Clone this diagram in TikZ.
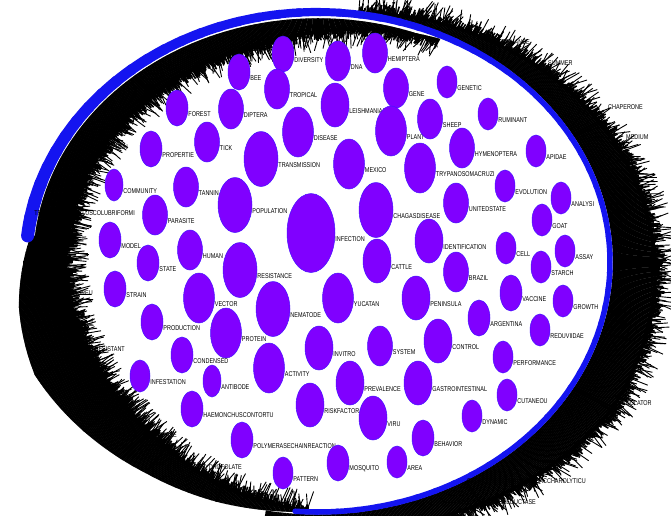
\documentclass[tikz,border=0pt]{standalone}
\usepackage{fontspec}
\setmainfont{Liberation Sans}
\newfontfamily\kwfont{Liberation Sans}[FakeStretch=0.78]
\usetikzlibrary{shapes.geometric}
\definecolor{kwfill}{RGB}{128,0,255}
\definecolor{kwedge}{RGB}{70,20,255}
\definecolor{ringblue}{RGB}{20,20,240}

\begin{document}
\begin{tikzpicture}[x=1pt, y=-1pt,
    kw/.style={ellipse, draw=kwedge, line width=0.5pt, fill=kwfill, inner sep=0pt},
    tinykw/.style={kw, minimum width=20pt, minimum height=32pt},
    smallkw/.style={kw, minimum width=22pt, minimum height=36pt},
    midkw/.style={kw, minimum width=25pt, minimum height=40pt},
    bigkw/.style={kw, minimum width=28pt, minimum height=44pt},
    largekw/.style={kw, minimum width=31pt, minimum height=50pt},
    hugekw/.style={kw, minimum width=34pt, minimum height=55pt},
    lbl/.style={font=\kwfont\fontsize{7}{8}\selectfont, inner sep=0pt, yshift=-6pt},
    tag/.style={font=\kwfont\fontsize{7}{8}\selectfont, inner sep=0pt},
    core/.style={line width=1.6pt},
    hair/.style={line width=0.9pt},
    stub/.style={line width=1.6pt},
]
\useasboundingbox (0,0) rectangle (671,515);
\fill[white] (0,0) rectangle (671,515);
\clip (0,0) rectangle (671,515);

\pgfmathsetseed{17}
% edge mass, left side (inside the ring)
\foreach \sa/\sb/\ia/\ib/\oa/\ob in {92/110/.99/.95/1.0/1.02, 110/125/.95/.90/1.02/1.03,
    125/140/.90/.87/1.03/1.05, 140/155/.87/.86/1.05/1.07, 155/170/.86/.86/1.07/1.04,
    170/186/.86/.86/1.04/.99, 186/230/.86/.87/.975/.975, 230/260/.87/.89/.975/.975,
    260/275/.89/.93/.975/.975, 275/295/.93/.975/.975/.975}{
  \pgfmathtruncatemacro\nn{(\sb-\sa)/0.25}
  \foreach \k in {0,...,\nn}{
    \pgfmathsetmacro\ang{\sa+0.25*\k}
    \pgfmathsetmacro\fr{\k/\nn}
    \pgfmathsetmacro\rin{\ia+(\ib-\ia)*\fr}
    \pgfmathsetmacro\rout{\oa+(\ob-\oa)*\fr}
    \pgfmathsetmacro\rh{\rin-0.075*rnd}
    \pgfmathsetmacro\rs{\rin-0.035*rnd}
    \pgfmathsetmacro\ah{\ang+3*(rnd-0.5)}
    \draw[core] ({318+292*\rin*cos(\ang)},{262+250*\rin*sin(\ang)})
      -- ({318+292*\rout*cos(\ang)},{262+250*\rout*sin(\ang)});
    \draw[hair] ({318+292*\rh*cos(\ah)},{262+250*\rh*sin(\ah)})
      -- ({318+292*(\rin+0.01)*cos(\ang)},{262+250*(\rin+0.01)*sin(\ang)});
    \draw[stub] ({318+292*\rs*cos(\ang)},{262+250*\rs*sin(\ang)})
      -- ({318+292*(\rin+0.01)*cos(\ang)},{262+250*(\rin+0.01)*sin(\ang)});
  }
}
% edge mass, right side (outside the ring)
\foreach \sa/\sb/\oa/\ob in {278/290/1.01/1.04, 290/305/1.04/1.07, 305/330/1.07/1.12,
    330/360/1.12/1.16, 360/390/1.16/1.17, 390/420/1.17/1.12, 420/445/1.12/1.08,
    445/460/1.08/1.02}{
  \pgfmathtruncatemacro\nn{(\sb-\sa)/0.25}
  \foreach \k in {0,...,\nn}{
    \pgfmathsetmacro\ang{\sa+0.25*\k}
    \pgfmathsetmacro\fr{\k/\nn}
    \pgfmathsetmacro\rout{\oa+(\ob-\oa)*\fr}
    \pgfmathsetmacro\rh{\rout+0.075*rnd}
    \pgfmathsetmacro\rs{\rout+0.035*rnd}
    \pgfmathsetmacro\ah{\ang+3*(rnd-0.5)}
    \draw[core] ({318+292*1.01*cos(\ang)},{262+250*1.01*sin(\ang)})
      -- ({318+292*\rout*cos(\ang)},{262+250*\rout*sin(\ang)});
    \draw[hair] ({318+292*(\rout-0.01)*cos(\ang)},{262+250*(\rout-0.01)*sin(\ang)})
      -- ({318+292*\rh*cos(\ah)},{262+250*\rh*sin(\ah)});
    \draw[stub] ({318+292*(\rout-0.01)*cos(\ang)},{262+250*(\rout-0.01)*sin(\ang)})
      -- ({318+292*\rs*cos(\ang)},{262+250*\rs*sin(\ang)});
  }
}

% ring
\foreach \sa in {186,190,...,450}{
  \pgfmathsetmacro\w{max(5.5,13-(\sa-186)*0.06)}
  \pgfmathsetmacro\se{\sa+4.5}
  \draw[ringblue, line width=\w pt, line cap=round]
    plot[domain=\sa:\se, samples=4] ({318+292*cos(\x)},{262+250*sin(\x)});
}

% outer labels
\node[tag, anchor=east] (tperf) at (530,42) {PERFORMANCE};
\node[tag, anchor=west] (tsummer) at (548,63) {SUMMER};
\node[tag, anchor=west] (tchap) at (608,107) {CHAPERONE};
\node[tag, anchor=west] (tmed) at (626,137) {MEDIUM};
\node[tag, anchor=west] (treg) at (618,403) {REGULATOR};
\node[tag, anchor=east] (tsacch) at (586,481) {CALDICELLULOSIRUPTORSACCHAROLYTICU};
\node[tag, anchor=east] (tred) at (536,502) {DIHYDROFOLATEREDUCTASE};
\node[tag, anchor=east] (tpos) at (128,147) {COMPOSITION};
\node[tag, anchor=east] (tmusc) at (135,213) {TRICHOSTRONGYLUSCOLUBRIFORMI};
\node[tag, anchor=east] (taureu) at (93,293) {STAPHYLOCOCCUSAUREU};
\node[tag, anchor=east] (tresist) at (125,349) {RESISTANT};
\node[tag, anchor=east] (tdis) at (177,435) {DISEASE};
\node[tag, anchor=east] (tdihy) at (242,467) {DIHYDROFOLATE};

% keywords
\node[smallkw, label={[lbl]right:BEE}] (bee) at (239,72) {};
\node[smallkw, label={[lbl]right:DIVERSITY}] (diversity) at (283,54) {};
\node[midkw, label={[lbl]right:DNA}] (dna) at (338,61) {};
\node[midkw, label={[lbl]right:HEMIPTERA}] (hemiptera) at (375,53) {};
\node[tinykw, label={[lbl]right:GENETIC}] (genetic) at (447,82) {};
\node[midkw, label={[lbl]right:GENE}] (gene) at (396,88) {};
\node[midkw, label={[lbl]right:TROPICAL}] (tropical) at (277,89) {};
\node[midkw, label={[lbl]right:DIPTERA}] (diptera) at (231,109) {};
\node[smallkw, label={[lbl]right:FOREST}] (forest) at (177,108) {};
\node[bigkw, label={[lbl]right:LEISHMANIASI}] (leish) at (335,105) {};
\node[largekw, label={[lbl]right:DISEASE}] (disease) at (298,132) {};
\node[largekw, label={[lbl]right:PLANT}] (plant) at (391,131) {};
\node[midkw, label={[lbl]right:SHEEP}] (sheep) at (430,119) {};
\node[tinykw, label={[lbl]right:RUMINANT}] (ruminant) at (488,114) {};
\node[midkw, label={[lbl]right:HYMENOPTERA}] (hymenoptera) at (462,148) {};
\node[tinykw, label={[lbl]right:APIDAE}] (apidae) at (536,151) {};
\node[midkw, label={[lbl]right:TICK}] (tick) at (207,142) {};
\node[smallkw, label={[lbl]right:PROPERTIE}] (propertie) at (151,149) {};
\node[hugekw, label={[lbl]right:TRANSMISSION}] (transmission) at (261,159) {};
\node[largekw, label={[lbl]right:MEXICO}] (mexico) at (349,164) {};
\node[largekw, label={[lbl]right:TRYPANOSOMACRUZI}] (trypanosoma) at (420,168) {};
\node[tinykw, label={[lbl]right:EVOLUTION}] (evolution) at (505,186) {};
\node[tinykw, label={[lbl]right:ANALYSI}] (analysi) at (561,198) {};
\node[tinykw, minimum width=18pt, label={[lbl]right:COMMUNITY}] (community) at (114,185) {};
\node[midkw, label={[lbl]right:TANNIN}] (tannin) at (186,187) {};
\node[hugekw, label={[lbl]right:POPULATION}] (population) at (235,205) {};
\node[kw, minimum width=48pt, minimum height=79pt, label={[lbl]right:INFECTION}] (infection) at (311,233) {};
\node[hugekw, label={[lbl]right:CHAGASDISEASE}] (chagas) at (376,210) {};
\node[midkw, label={[lbl]right:UNITEDSTATE}] (unitedstate) at (456,203) {};
\node[tinykw, label={[lbl]right:GOAT}] (goat) at (542,220) {};
\node[midkw, label={[lbl]right:PARASITE}] (parasite) at (155,215) {};
\node[smallkw, label={[lbl]right:MODEL}] (model) at (110,240) {};
\node[midkw, label={[lbl]right:HUMAN}] (human) at (190,250) {};
\node[bigkw, label={[lbl]right:IDENTIFICATION}] (identification) at (429,241) {};
\node[tinykw, label={[lbl]right:CELL}] (cell) at (506,248) {};
\node[tinykw, label={[lbl]right:ASSAY}] (assay) at (565,251) {};
\node[hugekw, label={[lbl]right:RESISTANCE}] (resistance) at (240,270) {};
\node[smallkw, label={[lbl]right:STATE}] (state) at (148,263) {};
\node[bigkw, label={[lbl]right:CATTLE}] (cattle) at (377,261) {};
\node[midkw, label={[lbl]right:BRAZIL}] (brazil) at (456,272) {};
\node[tinykw, label={[lbl]right:STARCH}] (starch) at (541,267) {};
\node[smallkw, label={[lbl]right:STRAIN}] (strain) at (115,289) {};
\node[largekw, label={[lbl]right:VECTOR}] (vector) at (199,298) {};
\node[hugekw, label={[lbl]right:NEMATODE}] (nematode) at (273,309) {};
\node[largekw, label={[lbl]right:YUCATAN}] (yucatan) at (338,298) {};
\node[bigkw, label={[lbl]right:PENINSULA}] (peninsula) at (416,298) {};
\node[smallkw, label={[lbl]right:VACCINE}] (vaccine) at (511,293) {};
\node[tinykw, label={[lbl]right:GROWTH}] (growth) at (563,301) {};
\node[smallkw, label={[lbl]right:ARGENTINA}] (argentina) at (479,318) {};
\node[smallkw, label={[lbl]right:PRODUCTION}] (production) at (152,322) {};
\node[largekw, label={[lbl]right:PROTEIN}] (protein) at (226,333) {};
\node[tinykw, label={[lbl]right:REDUVIIDAE}] (reduviidae) at (540,330) {};
\node[smallkw, label={[lbl]right:CONDENSED}] (condensed) at (182,355) {};
\node[largekw, label={[lbl]right:ACTIVITY}] (activity) at (269,368) {};
\node[bigkw, label={[lbl]right:INVITRO}] (invitro) at (319,348) {};
\node[midkw, label={[lbl]right:SYSTEM}] (system) at (380,346) {};
\node[bigkw, label={[lbl]right:CONTROL}] (control) at (438,341) {};
\node[tinykw, label={[lbl]right:PERFORMANCE}] (performance) at (503,357) {};
\node[tinykw, label={[lbl]right:INFESTATION}] (infestation) at (140,376) {};
\node[tinykw, minimum width=18pt, label={[lbl]right:ANTIBODE}] (antibode) at (212,381) {};
\node[bigkw, label={[lbl]right:PREVALENCE}] (prevalence) at (350,383) {};
\node[bigkw, label={[lbl]right:GASTROINTESTINAL}] (gastro) at (418,383) {};
\node[tinykw, label={[lbl]right:CUTANEOU}] (cutaneou) at (507,395) {};
\node[smallkw, label={[lbl]right:HAEMONCHUSCONTORTU}] (haemonchus) at (192,409) {};
\node[bigkw, label={[lbl]right:RISKFACTOR}] (riskfactor) at (310,405) {};
\node[bigkw, label={[lbl]right:VIRU}] (viru) at (373,418) {};
\node[tinykw, label={[lbl]right:DYNAMIC}] (dynamic) at (472,416) {};
\node[smallkw, label={[lbl]right:BEHAVIOR}] (behavior) at (423,438) {};
\node[smallkw, label={[lbl]right:POLYMERASECHAINREACTION}] (polymerase) at (242,440) {};
\node[tinykw, label={[lbl]right:PATTERN}] (pattern) at (283,473) {};
\node[smallkw, label={[lbl]right:MOSQUITO}] (mosquito) at (338,463) {};
\node[tinykw, label={[lbl]right:AREA}] (area) at (397,462) {};
\end{tikzpicture}
\end{document}
